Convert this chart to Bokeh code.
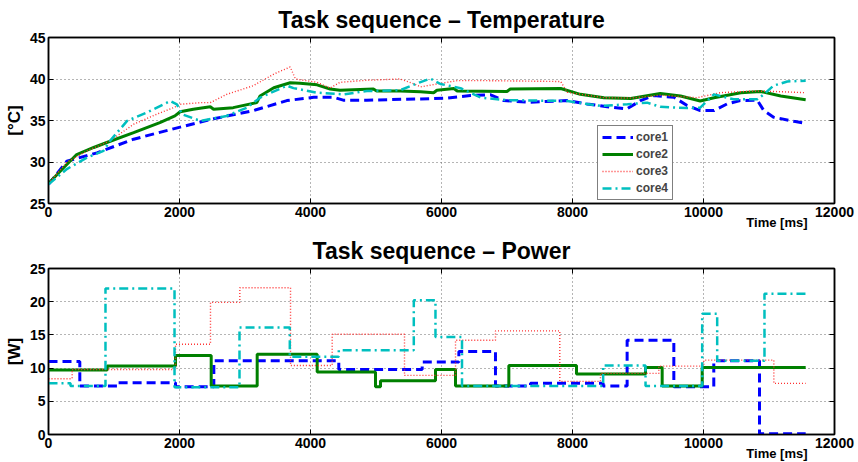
from bokeh.plotting import figure
from bokeh.layouts import column
from bokeh.models import LinearAxis, Title
from bokeh.embed import file_html
from bokeh.resources import INLINE

FONT = "Liberation Sans"

# ---------------- data ----------------
series = ["core1", "core2", "core3", "core4"]
x_ticks = [0, 2000, 4000, 6000, 8000, 10000, 12000]
temp_ticks = [25, 30, 35, 40, 45]
power_ticks = [0, 5, 10, 15, 20, 25]

# Temperature [°C] vs time [ms]
core1_t = [0, 280, 740, 1300, 2010, 2520, 3130, 3640, 4050, 4350, 4500, 4860, 5680, 6090, 6440, 6750, 6950,
           7360, 7920, 8220, 8530, 8830, 9040, 9240, 9550, 9750, 9950, 10160, 10360, 10560, 10820, 10920,
           11070, 11380, 11560]
core1_temp = [27.3, 30.1, 31.1, 32.75, 34.2, 35.2, 36.2, 37.4, 37.8, 37.8, 37.45, 37.45, 37.6, 37.7, 38.0, 38.1,
              37.4, 37.2, 37.4, 37.0, 36.65, 36.4, 37.4, 38.0, 37.8, 36.8, 36.2, 36.2, 37.0, 37.4, 37.45, 36.2,
              35.4, 34.9, 34.65]

core2_t = [0, 230, 430, 690, 890, 1300, 1700, 1930, 2010, 2210, 2470, 2520, 2820, 3180, 3230, 3440, 3690,
           3840, 4100, 4300, 4450, 4960, 5010, 5370, 5680, 5880, 5930, 6190, 6240, 7000, 7050, 7820, 8120,
           8480, 8890, 9340, 9650, 9950, 10160, 10570, 10870, 11180, 11560]
core2_temp = [27.4, 29.3, 30.9, 31.75, 32.35, 33.55, 34.75, 35.55, 36.05, 36.35, 36.65, 36.35, 36.55, 37.15,
              37.95, 38.95, 39.55, 39.5, 39.3, 38.8, 38.65, 38.8, 38.55, 38.55, 38.45, 38.35, 38.65, 38.85,
              38.55, 38.5, 38.8, 38.85, 38.15, 37.75, 37.65, 38.25, 37.95, 37.35, 37.75, 38.35, 38.5, 37.95, 37.5]

core3_t = [0, 280, 590, 940, 1300, 1650, 1910, 2010, 2320, 2470, 2720, 3130, 3440, 3690, 3770, 4100, 4300,
           4450, 4860, 5370, 5570, 5680, 5930, 6240, 6700, 7820, 7920, 8480, 8890, 9340, 9900, 10260, 10770,
           11070, 11560]
core3_temp = [27.4, 29.95, 31.35, 32.55, 34.55, 35.75, 36.55, 36.95, 37.15, 37.15, 38.15, 39.2, 40.6, 41.45,
              40.0, 39.6, 38.9, 39.6, 39.85, 40.0, 39.45, 39.05, 39.4, 39.8, 39.8, 39.7, 38.4, 37.75, 37.7,
              38.05, 37.75, 38.35, 38.55, 38.5, 38.35]

core4_t = [0, 280, 590, 840, 940, 1200, 1500, 1860, 1960, 2040, 2320, 2720, 3030, 3230, 3640, 3740, 4100,
           4500, 4860, 5370, 5670, 5830, 5985, 6290, 6600, 7000, 7920, 8430, 8840, 9140, 9340, 9750, 9950,
           10160, 10460, 10820, 10920, 11070, 11280, 11560]
core4_temp = [27.3, 29.15, 30.55, 31.35, 32.55, 34.95, 35.95, 37.35, 36.95, 35.75, 34.95, 35.55, 36.55, 37.75,
              39.2, 38.9, 38.35, 38.15, 38.55, 38.65, 39.6, 40.05, 39.4, 38.9, 37.75, 37.45, 37.35, 36.75,
              36.95, 37.15, 36.65, 36.5, 36.55, 38.15, 37.55, 37.55, 38.15, 39.2, 39.7, 39.8]

# Power [W] step changes (value holds from each time until the next)
core1_pt = [0, 478, 1048, 1939, 2524, 4432, 5705, 6265, 6824, 7359, 8468, 8834, 9547, 10157, 10855, 11560]
core1_pw = [11.0, 7.3, 7.8, 7.2, 11.1, 9.8, 10.9, 12.5, 7.3, 7.7, 7.3, 14.2, 7.2, 11.1, 0.1, 0.1]

core2_pt = [0, 896, 1939, 2484, 3186, 4102, 4992, 5069, 5908, 6214, 7028, 8061, 9115, 9369, 9980, 11560]
core2_pw = [9.7, 10.3, 11.9, 7.3, 12.1, 9.4, 7.2, 8.1, 9.8, 7.3, 10.4, 9.1, 10.1, 7.3, 10.1, 10.1]

core3_pt = [0, 361, 1939, 2473, 2921, 3695, 4331, 5435, 6214, 6824, 7806, 8427, 9318, 10005, 11074, 11560]
core3_pw = [8.4, 9.8, 13.6, 19.9, 22.1, 10.4, 15.1, 8.9, 14.2, 15.6, 8.0, 9.2, 10.3, 11.2, 7.7, 7.7]

core4_pt = [0, 336, 870, 1924, 2916, 3684, 4432, 5577, 5908, 6313, 8468, 9115, 9980, 10209, 10931, 11560]
core4_pw = [7.7, 7.3, 22.0, 7.1, 16.1, 11.7, 12.7, 20.2, 14.7, 7.3, 10.4, 7.3, 18.2, 11.1, 21.2, 21.2]

titles = ["Task sequence – Temperature", "Task sequence – Power"]
x_label = "Time [ms]"

# ---------------- styles ----------------
styles = [
    dict(color="#0000ff", line_width=3, line_dash="9 5"),
    dict(color="#008000", line_width=3),
    dict(color="#ff3030", line_width=1.4, line_dash="1 2"),
    dict(color="#00bfbf", line_width=2.5, line_dash="9 4 2 4"),
]


def make_fig(height, top, bottom, yrange, yticks, ylabel, title, title_standoff):
    p = figure(width=856, height=height, x_range=(0, 12000), y_range=yrange,
               output_backend="svg", toolbar_location=None, title=None,
               min_border_left=48, min_border_right=22, min_border_top=top, min_border_bottom=bottom)
    p.background_fill_color = "white"
    p.border_fill_color = "white"
    p.outline_line_color = "black"
    p.outline_line_width = 1.5
    p.xaxis.ticker = x_ticks
    p.yaxis.ticker = yticks
    for ax in [p.xaxis[0], p.yaxis[0]]:
        ax.major_label_text_font = FONT
        ax.major_label_text_font_style = "bold"
        ax.major_label_text_font_size = "14px"
        ax.major_label_text_color = "black"
        ax.major_tick_in = 5
        ax.major_tick_out = 0
        ax.minor_tick_in = 0
        ax.minor_tick_out = 0
        ax.axis_line_width = 1.5
        ax.axis_line_color = "black"
        ax.major_tick_line_color = "black"
        ax.major_label_standoff = 3
    p.yaxis.axis_label = ylabel
    p.yaxis.axis_label_text_font = FONT
    p.yaxis.axis_label_text_font_style = "bold"
    p.yaxis.axis_label_text_font_size = "17px"
    p.yaxis.axis_label_text_color = "black"
    p.yaxis.axis_label_standoff = 3
    # mirrored tick marks (box on)
    for ticks, side in [(yticks, "right"), (x_ticks, "above")]:
        ax = LinearAxis(ticker=ticks, major_label_overrides={v: "" for v in ticks},
                        major_tick_in=5, major_tick_out=0, minor_tick_in=0, minor_tick_out=0,
                        major_label_standoff=0, major_label_text_font_size="1px",
                        axis_line_width=1.5, axis_line_color="black")
        p.add_layout(ax, side)
    p.grid.grid_line_color = "#6a6a6a"
    p.grid.grid_line_dash = "1 3"
    p.grid.grid_line_width = 1
    p.add_layout(Title(text=title, align="center", vertical_align="middle", standoff=title_standoff,
                       text_font=FONT, text_font_style="bold", text_font_size="23px",
                       text_color="black"), "above")
    p.add_layout(Title(text=x_label, align="right", offset=27, vertical_align="middle", standoff=-12,
                       text_font=FONT, text_font_style="bold", text_font_size="13px",
                       text_color="black"), "below")
    return p


# ---------------- temperature ----------------
p1 = make_fig(230, 37, 27, (25, 45), temp_ticks, "[°C]", titles[0], 7)
temps = [(core1_t, core1_temp), (core2_t, core2_temp), (core3_t, core3_temp), (core4_t, core4_temp)]
for name, (t, v), st in zip(series, temps, styles):
    p1.line(t, v, legend_label=name, **st)

p1.legend.location = (549, 3)
p1.legend.label_text_font = FONT
p1.legend.label_text_font_style = "bold"
p1.legend.label_text_font_size = "12px"
p1.legend.glyph_width = 31
p1.legend.glyph_height = 14
p1.legend.label_height = 14
p1.legend.label_standoff = 3
p1.legend.spacing = 3
p1.legend.padding = 4
p1.legend.margin = 0
p1.legend.border_line_color = "black"
p1.legend.border_line_width = 1.5
p1.legend.background_fill_alpha = 1

# ---------------- power ----------------
p2 = make_fig(231, 38, 27, (0, 25), power_ticks, "[W]", titles[1], 8)
powers = [(core1_pt, core1_pw), (core2_pt, core2_pw), (core3_pt, core3_pw), (core4_pt, core4_pw)]
for (t, v), st in zip(powers, styles):
    p2.step(t, v, mode="after", **st)

layout = column(p1, p2, spacing=0)
open("out.html", "w").write(file_html(layout, INLINE))
